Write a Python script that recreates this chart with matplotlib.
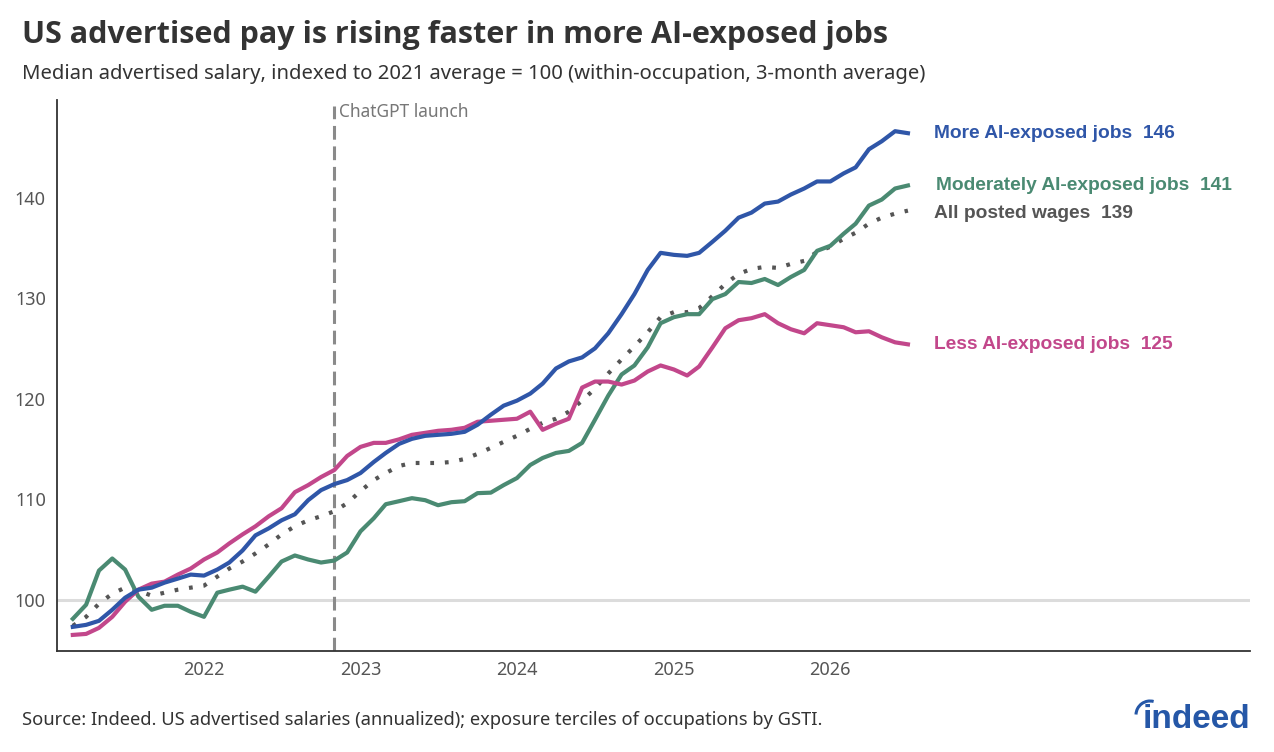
import numpy as np
import pandas as pd
import matplotlib
matplotlib.use("Agg")
import matplotlib.pyplot as plt
from matplotlib.patches import Arc

plt.rcParams['font.family'] = ['Noto Sans', 'DejaVu Sans']

# monthly, 2021-03 .. 2026-07
months = pd.date_range('2021-03-01', periods=65, freq='MS')

more_ai = [97.3, 97.5, 97.9, 99.0, 100.2, 101.0, 101.2, 101.7, 102.1, 102.5, 102.4, 103.0,
           103.7, 104.9, 106.4, 107.1, 107.9, 108.5, 109.9, 110.9, 111.5, 111.9, 112.6, 113.7,
           114.6, 115.5, 116.0, 116.3, 116.4, 116.5, 116.7, 117.4, 118.4, 119.3, 119.8, 120.5,
           121.5, 123.0, 123.7, 124.1, 125.0, 126.5, 128.4, 130.4, 132.8, 134.5, 134.3, 134.2,
           134.5, 135.6, 136.7, 138.0, 138.5, 139.4, 139.6, 140.3, 140.9, 141.6, 141.6, 142.4,
           143.0, 144.8, 145.6, 146.6, 146.4]
moderate_ai = [98.1, 99.5, 102.9, 104.1, 103.0, 100.3, 99.0, 99.4, 99.4, 98.8, 98.3, 100.7,
               101.0, 101.3, 100.8, 102.3, 103.8, 104.4, 104.0, 103.7, 103.9, 104.7, 106.8, 108.1,
               109.5, 109.8, 110.1, 109.9, 109.4, 109.7, 109.8, 110.6, 110.65, 111.4, 112.1, 113.4,
               114.1, 114.6, 114.8, 115.6, 117.9, 120.3, 122.4, 123.3, 125.1, 127.5, 128.1, 128.4,
               128.4, 129.9, 130.4, 131.6, 131.5, 131.9, 131.3, 132.1, 132.8, 134.7, 135.2, 136.4,
               137.4, 139.2, 139.8, 140.9, 141.2]
less_ai = [96.5, 96.6, 97.2, 98.3, 99.8, 101.0, 101.6, 101.8, 102.5, 103.1, 104.0, 104.7,
           105.6, 106.5, 107.3, 108.3, 109.1, 110.7, 111.4, 112.2, 112.9, 114.3, 115.2, 115.6,
           115.6, 115.95, 116.4, 116.6, 116.8, 116.9, 117.1, 117.7, 117.8, 117.9, 118.0, 118.7,
           116.9, 117.5, 118.0, 121.1, 121.7, 121.7, 121.4, 121.8, 122.7, 123.3, 122.9, 122.3,
           123.2, 125.1, 127.0, 127.8, 128.0, 128.4, 127.5, 126.9, 126.5, 127.5, 127.3, 127.1,
           126.6, 126.7, 126.1, 125.6, 125.4]
all_wages = [97.4, 98.3, 99.6, 100.6, 101.2, 100.9, 100.4, 100.7, 101.0, 101.2, 101.4, 102.3,
             103.1, 103.8, 104.6, 105.5, 106.5, 107.3, 107.9, 108.3, 108.8, 109.6, 110.8, 111.9,
             112.6, 113.3, 113.6, 113.6, 113.6, 113.7, 114.0, 114.5, 115.1, 115.7, 116.3, 117.0,
             117.6, 118.0, 118.7, 119.8, 121.0, 122.5, 123.9, 125.2, 126.6, 128.1, 128.6, 128.6,
             129.0, 130.2, 131.4, 132.4, 132.9, 133.1, 133.0, 133.4, 133.7, 134.6, 135.1, 135.9,
             136.5, 137.4, 138.0, 138.4, 138.7]

series_names = ['More AI-exposed jobs', 'Moderately AI-exposed jobs', 'All posted wages', 'Less AI-exposed jobs']
chatgpt_date = pd.Timestamp('2022-11-01')
year_ticks = pd.to_datetime(['2022-01-01', '2023-01-01', '2024-01-01', '2025-01-01', '2026-01-01'])
y_ticks = [100, 110, 120, 130, 140]

BLUE = '#2f56a8'
GREEN = '#4a8a72'
PINK = '#c2478b'
DARK = '#555555'
BOLD_FAM = ['Open Sans', 'Noto Sans', 'DejaVu Sans']

fig = plt.figure(figsize=(12.74, 7.52), dpi=100)
ax = fig.add_axes([0.0447, 0.1343, 0.9365, 0.7327])

ax.axhline(100, color='#dcdcdc', lw=2.2, zorder=1)
ax.axvline(chatgpt_date, color='#8a8a8a', lw=2.2, dashes=(4.5, 2.2), ymax=0.99, zorder=1)
ax.text(chatgpt_date + pd.Timedelta(days=10), 148.5, 'ChatGPT launch', color='#777777',
        fontsize=12.5, va='center', ha='left')

ax.plot(months, all_wages, color=DARK, lw=3, dashes=(0.9, 2.6), zorder=2)
ax.plot(months, moderate_ai, color=GREEN, lw=3, zorder=3)
ax.plot(months, less_ai, color=PINK, lw=3, zorder=3)
ax.plot(months, more_ai, color=BLUE, lw=3, zorder=4)

for name, vals, col, dx, dy in [(series_names[0], more_ai, BLUE, 19, 0),
                                (series_names[1], moderate_ai, GREEN, 20, 0),
                                (series_names[2], all_wages, DARK, 19, -2),
                                (series_names[3], less_ai, PINK, 19, 0)]:
    ax.annotate(f'{name}  {round(vals[-1])}', xy=(months[-1], vals[-1]),
                xytext=(dx, dy), textcoords='offset points', va='center', ha='left',
                color=col, fontsize=13.8, fontweight='bold', family=['Liberation Sans'])

ax.set_xlim(pd.Timestamp('2021-01-23'), pd.Timestamp('2028-09-06'))
ax.set_ylim(94.9, 149.7)
ax.set_xticks(year_ticks)
ax.set_xticklabels([d.year for d in year_ticks])
ax.set_yticks(y_ticks)
ax.tick_params(length=0, labelsize=13, labelcolor=DARK, pad=8)
ax.tick_params(axis='x', pad=7)
for s in ['top', 'right']:
    ax.spines[s].set_visible(False)
for s in ['left', 'bottom']:
    ax.spines[s].set_color('#333333')
    ax.spines[s].set_linewidth(1.3)

fig.text(0.0173, 0.954, 'US advertised pay is rising faster in more AI-exposed jobs',
         fontsize=22, fontweight='bold', color='#333333', va='center', family=BOLD_FAM)
fig.text(0.0173, 0.902, 'Median advertised salary, indexed to 2021 average = 100 (within-occupation, 3-month average)',
         fontsize=14.6, color='#333333', va='center')
fig.text(0.0173, 0.042, 'Source: Indeed. US advertised salaries (annualized); exposure terciles of occupations by GSTI.',
         fontsize=13.2, color='#333333', va='center')

# indeed logo
fig.text(0.981, 0.032, 'indeed', fontsize=24, fontweight='bold', color='#2557a7',
         ha='right', va='baseline', family=['Liberation Sans'])
fig.add_artist(Arc((11.50, 0.37), 0.28, 0.28, theta1=75, theta2=178, lw=2.2,
                   color='#2557a7', transform=fig.dpi_scale_trans))

fig.savefig('out.png', dpi=100)
